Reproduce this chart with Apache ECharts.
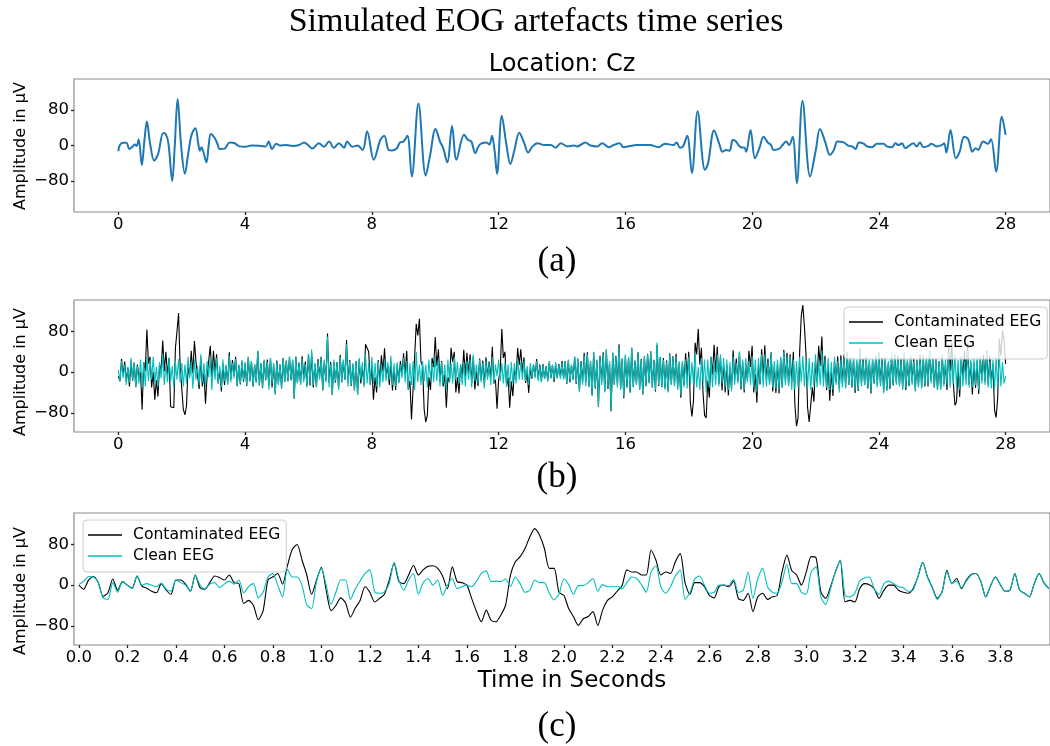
<!DOCTYPE html>
<html><head><meta charset="utf-8">
<script src="https://cdn.jsdelivr.net/npm/echarts@6.0.0/dist/echarts.min.js"></script>
<style>html,body{margin:0;padding:0;background:#fff}#chart{width:1050px;height:746px}</style>
</head><body><div id="chart"></div>
<script>
// ---------- DATA ----------
// Panel (a): simulated EOG artefact (time in s, amplitude in µV)
const eogT = [0,0.04,0.15,0.25,0.35,0.45,0.52,0.58,0.64,0.74,
0.82,0.90,1.00,1.13,1.25,1.42,1.50,1.58,1.70,1.78,
1.87,1.98,2.10,2.20,2.31,2.43,2.52,2.57,2.62,2.68,
2.78,2.85,2.92,3.04,3.12,3.20,3.35,3.51,3.67,3.82,
4.00,4.20,4.50,4.65,4.74,4.85,4.98,5.10,5.30,5.50,
5.70,5.86,6.00,6.12,6.33,6.49,6.65,6.80,6.96,7.12,
7.22,7.38,7.55,7.71,7.85,8.06,8.27,8.39,8.53,8.63,
8.79,8.89,9.00,9.12,9.26,9.47,9.70,9.83,10.01,10.15,
10.25,10.38,10.53,10.67,10.91,11.03,11.14,11.26,11.40,11.61,
11.71,11.79,11.87,11.95,12.10,12.24,12.37,12.50,12.65,12.81,
12.93,13.07,13.23,13.44,13.65,13.80,13.96,14.17,14.38,14.48,
14.74,14.90,15.11,15.27,15.48,15.63,15.82,15.94,16.15,16.36,
16.57,16.78,17.04,17.25,17.51,17.62,17.72,17.82,17.95,18.10,
18.28,18.51,18.61,18.80,18.98,19.06,19.19,19.29,19.39,19.49,
19.64,19.76,19.81,19.95,20.09,20.23,20.36,20.49,20.60,20.67,
20.86,20.96,21.07,21.17,21.28,21.41,21.59,21.83,22.01,22.14,
22.32,22.45,22.58,22.69,22.89,23.05,23.16,23.26,23.37,23.52,
23.62,23.78,23.94,24.15,24.25,24.41,24.52,24.62,24.73,24.83,
25.09,25.19,25.30,25.40,25.56,25.66,25.82,25.98,26.06,26.13,
26.26,26.43,26.55,26.69,26.82,26.95,27.05,27.13,27.29,27.44,
27.54,27.70,27.88,28.00];
const eogV = [-13,0,6,6,-8,-2,2,-1,14,-44,
10,54,5,-34,-20,28,25,5,-80,0,
105,0,-64,-20,24,39,5,-12,-4,-14,
-38,0,26,17,5,-8,-7,7,5,-2,
-3,0,-1,-2,9,-8,4,0,1,-1,
1,7,0,-7,5,-3,9,-5,5,-5,
9,-3,0,-10,32,-32,13,22,-10,-11,
-6,7,9,22,-70,95,-68,-25,37,9,
-6,-38,44,-32,24,13,9,-17,2,7,
2,22,-10,-64,67,5,-42,-10,29,5,
-16,-2,5,1,1,-5,5,-2,0,-2,
7,0,-2,5,-4,1,5,-4,-1,1,
1,1,-4,4,1,7,-5,-2,22,-62,
77,-55,-40,34,0,-14,-10,-12,13,9,
-4,-5,-14,35,-29,-6,20,7,1,-10,
-7,1,9,1,20,-85,101,-70,-10,37,
5,-21,-10,9,7,-1,-2,-8,7,4,
-2,-4,4,4,-2,-4,5,1,5,-6,
5,-2,7,-4,-1,4,-2,1,5,-16,
35,-29,-14,20,14,-14,-6,-10,9,4,
14,-59,65,24];

// Panel (b): 0–28 s, one value every 0.05 s (one row per second)
const stepB = 0.05;
const contamB = [
-8,-18,26,-6,21,-19,9,-28,23,-17,19,-29,15,-10,0,-74,20,2,84,17,
30,-30,0,-54,-16,-48,15,3,62,2,40,-5,28,-68,-68,-70,47,80,116,10,
10,-73,-84,-67,10,-7,42,-2,61,20,22,-33,29,-28,-2,-62,-8,-10,52,-11,
42,1,35,-22,4,-38,17,-25,12,-22,39,-14,24,-7,30,-27,14,-24,21,-19,
17,-27,29,-18,22,-28,15,-20,41,-26,17,-31,23,-16,25,-27,28,-30,15,-42,
23,-23,15,-32,28,-19,23,-18,30,-16,24,-52,30,-21,19,-22,31,-13,21,-27,
35,-26,38,-30,16,-29,26,-10,30,-36,22,-17,76,-21,20,-45,20,-20,20,-32,
34,-20,21,-15,63,-21,24,-27,15,-36,22,-45,25,-22,10,-25,55,57,40,-25,
10,-54,-10,-40,24,-18,33,1,47,-10,14,-25,21,-36,9,-35,15,-20,22,-4,
37,-5,42,-35,-17,-93,-33,-30,95,72,105,20,12,-73,-98,-85,-10,-35,28,10,
69,12,45,-19,22,-28,-5,-70,-10,-20,48,20,40,-40,-10,-42,15,-10,44,-8,
38,-3,35,-22,30,-34,1,-27,27,-16,23,-26,29,-10,21,-13,50,-22,-15,-72,
-15,2,85,28,40,-28,-10,-70,-18,-47,8,-14,48,14,45,0,29,-21,0,-41,
8,-13,15,-9,26,-14,15,-18,16,-13,12,-18,21,-12,14,-19,15,-12,16,-10,
22,-13,22,-23,23,-20,14,-15,30,-23,26,-38,22,-20,38,-21,39,-28,22,-46,
39,-32,23,-68,32,-21,39,-38,44,-33,19,-77,38,-24,32,-26,55,-33,26,-51,
32,-30,29,-40,48,-29,23,-24,39,-34,26,-44,31,-27,36,-21,41,-30,24,-38,
54,-27,29,-29,28,-31,23,-37,37,-24,31,-25,36,-30,18,-50,20,-25,37,-10,
40,-60,-87,-55,58,35,85,15,48,-40,-85,-90,-17,-50,30,-5,54,0,50,-23,
30,-36,15,-40,15,-46,10,-33,43,-14,27,-18,40,-34,21,-40,16,-15,42,10,
52,-40,-4,-60,16,-24,45,-12,53,-16,27,-22,39,-38,12,-41,17,-42,27,-30,
44,-18,38,-25,35,-20,40,-65,-106,-90,40,110,132,90,35,-70,-98,-98,-30,-58,
23,-20,52,12,70,-13,32,-35,13,-56,2,-47,22,-20,31,-32,33,-23,35,-29,
40,-25,29,-30,26,-41,20,-37,47,-22,26,-25,31,-32,22,-42,24,-22,32,-26,
39,-24,29,-39,29,-36,19,-33,34,-26,34,-20,32,-25,26,-32,36,-35,23,-27,
32,-20,27,-36,24,-27,35,-30,31,-28,28,-28,42,-18,28,-30,26,-35,22,-33,
34,-23,15,-35,53,3,58,-22,-65,-58,5,-49,30,-13,42,-7,57,-25,20,-44,
16,-31,22,-43,30,-16,34,-19,43,-25,32,-18,15,-75,-89,-50,65,32,82,62,
16];
const cleanB = [
5,-18,22,-12,15,-25,10,-20,28,-15,18,-30,12,-22,25,-30,20,-28,30,-18,
25,-15,30,-22,10,-28,20,-12,35,-25,15,-20,28,-18,12,-30,22,-15,26,-20,
18,-28,15,-22,30,-12,20,-32,25,-15,12,-25,35,-20,18,-28,22,-10,30,-35,
20,-15,28,-22,12,-30,25,-18,15,-25,32,-20,18,-12,26,-28,15,-22,24,-16,
20,-25,30,-18,22,-28,15,-20,42,-25,18,-30,25,-15,20,-35,28,-22,18,-45,
20,-25,15,-32,28,-20,22,-18,30,-15,25,-52,30,-22,18,-25,26,-20,15,-30,
35,-22,45,-25,18,-30,22,-15,28,-35,25,-20,70,-30,15,-45,25,-18,20,-35,
30,-20,25,-15,55,-28,22,-25,18,-35,22,-45,28,-15,20,-30,35,-22,18,-25,
30,-22,18,-28,22,-30,15,-20,25,-18,20,-15,32,-25,18,-28,20,-22,15,-12,
28,-20,22,-35,18,-25,22,-35,40,-20,15,-25,22,-18,15,-30,25,-15,18,-20,
32,-18,25,-28,20,-22,15,-35,25,-20,18,-22,30,-15,20,-22,15,-25,20,-28,
22,-15,25,-30,35,-18,15,-22,25,-20,18,-32,22,-15,18,-25,30,-22,15,-8,
25,-18,18,-22,20,-28,15,-30,20,-22,18,-22,26,-15,20,-15,22,-18,12,-25,
18,-10,15,-12,22,-18,12,-20,15,-14,12,-18,20,-12,15,-16,20,-12,14,-14,
18,-15,22,-22,25,-18,15,-15,30,-22,28,-38,20,-25,32,-28,35,-30,22,-45,
40,-30,25,-67,30,-25,35,-40,45,-30,22,-75,38,-25,30,-30,50,-35,28,-48,
35,-28,30,-40,48,-30,22,-25,38,-35,25,-45,30,-28,35,-22,40,-30,25,-35,
58,-25,30,-30,25,-35,20,-40,35,-25,30,-28,30,-35,22,-45,22,-30,25,-32,
30,-25,20,-25,38,-30,10,-35,28,-20,25,-40,25,-30,30,-30,20,-25,35,-28,
35,-22,28,-30,25,-35,20,-38,30,-25,18,-22,40,-30,25,-35,28,-20,22,-25,
32,-30,25,-40,28,-22,35,-30,35,-28,20,-25,38,-30,22,-32,25,-35,30,-30,
40,-25,30,-28,30,-35,25,-35,22,-30,30,-20,32,-28,25,-30,28,-35,20,-28,
35,-30,22,-25,42,-28,25,-30,28,-35,20,-35,30,-25,22,-40,25,-30,28,-32,
38,-25,30,-28,30,-35,25,-35,40,-28,22,-25,32,-30,25,-38,28,-22,30,-30,
35,-28,25,-42,28,-35,22,-30,38,-25,30,-25,30,-28,22,-35,40,-30,25,-28,
30,-25,22,-38,25,-30,28,-32,35,-25,30,-28,40,-22,25,-30,28,-35,22,-35,
32,-28,25,-25,38,-30,28,-22,35,-30,25,-35,30,-28,22,-25,42,-30,25,-30,
28,-25,30,-35,30,-22,25,-25,38,-30,22,-32,25,-35,30,-30,35,-28,20,-22,
-8];

// Panel (c): first 4 s, one value every 0.02 s
const stepC = 0.02;
const contamC = [
0,-8,10,17,5,-22,-15,12,-10,7,
0,-6,18,-2,-6,-12,-15,3,-10,-18,
10,10,2,-12,20,-5,-8,5,18,15,
10,20,5,3,-36,-30,-40,-68,-50,10,
16,23,2,38,70,80,50,20,-18,10,
35,-10,-50,-40,-25,-35,-63,-45,-30,-3,
-14,-33,-26,-18,10,43,7,3,20,39,
20,30,37,38,33,18,-7,36,7,5,
0,-26,-52,-72,-49,-69,-72,-59,-39,20,
46,56,72,95,111,98,72,33,33,-14,
-20,-46,-62,-79,-66,-62,-52,-79,-49,-30,
-23,-12,-1,30,26,26,20,20,69,49,
20,26,23,46,62,5,-18,5,5,-3,
-20,-25,-3,0,-3,8,-26,-30,-16,-52,
-23,-16,-28,-23,-20,26,59,29,20,0,
26,56,54,-13,-26,-3,26,49,-33,-30,
-33,-7,3,1,-7,-26,-10,0,0,-10,
-14,-16,-7,16,45,16,-5,-26,-13,29,
3,13,-7,10,21,23,7,-23,-1,16,
1,-12,-10,23,-10,-16,-23,3,23,5,
-7];
const cleanC = [
1,8,17,16,5,-25,-28,5,-14,7,
0,-7,18,0,3,0,-3,4,-8,-12,
10,5,0,-12,20,0,-8,2,5,-5,
2,8,2,10,-15,-3,3,-25,-14,16,
23,0,-23,31,16,16,0,-39,-46,7,
33,0,-38,-14,10,10,-28,-7,8,23,
30,-13,-16,-13,3,45,10,-10,10,23,
-18,5,13,0,10,-20,0,13,-7,-3,
0,-3,8,23,28,7,8,7,12,-3,
16,3,-14,-10,10,5,5,-16,-29,-18,
12,1,-18,-1,-1,5,13,-12,1,-3,
-3,-2,-7,5,16,13,1,-14,26,38,
-3,-16,-3,18,30,-28,-15,12,18,0,
-16,-14,0,0,-1,12,-14,-10,26,-26,
13,33,-3,-14,-16,7,41,3,3,-14,
-18,26,36,-23,-38,-7,26,49,-20,-23,
-16,8,14,16,-7,-18,3,8,3,-3,
-5,-12,-10,16,45,16,-5,-28,-13,27,
3,8,-5,8,20,23,7,-23,-1,16,
1,-12,-10,23,-10,-16,-23,3,23,5,
-7];

// Tick labels
const xTicksAB = [0,4,8,12,16,20,24,28];
const xTicksC = [0,0.2,0.4,0.6,0.8,1.0,1.2,1.4,1.6,1.8,2.0,2.2,2.4,2.6,2.8,3.0,3.2,3.4,3.6,3.8];
const yTicks = [-80,0,80];
const legendNames = ['Contaminated EEG','Clean EEG'];

// ---------- CHART ----------
const SANS = '"DejaVu Sans", sans-serif';
const SERIF = '"Liberation Serif", "DejaVu Serif", serif';
const fmtY = v => (v < 0 ? '\u2212' + Math.abs(v) : String(v));
const tickStyle = {color:'#222', width:1.3};

function mkGrid(top, height) {
  return {left:74, top, width:982, height, show:true, borderColor:'#8c8c8c', borderWidth:1.2, backgroundColor:'transparent'};
}
function mkX(gi, min, max, ticks, fmt) {
  return {gridIndex:gi, type:'value', min, max, position:'bottom',
    axisLine:{show:false, onZero:false}, splitLine:{show:false},
    axisTick:{show:true, customValues:ticks, length:3, lineStyle:tickStyle},
    axisLabel:{customValues:ticks, formatter:fmt, fontSize:16.5, fontFamily:SANS, color:'#000', margin:4}};
}
function mkY(gi, min, max) {
  return {gridIndex:gi, type:'value', min, max, position:'left',
    axisLine:{show:false, onZero:false}, splitLine:{show:false},
    axisTick:{show:true, customValues:yTicks, length:3, lineStyle:tickStyle},
    axisLabel:{customValues:yTicks, formatter:fmtY, fontSize:16.5, fontFamily:SANS, color:'#000', margin:5}};
}
function txt(text, x, y, font, rot) {
  return {type:'text', x, y, rotation:rot || 0, z:10,
    style:{text, x:0, y:0, font, fill:'#000', align:'center', verticalAlign:'middle', textAlign:'center', textVerticalAlign:'middle'}};
}
function mkLegend(left, top) {
  return {left, top, orient:'vertical', data:legendNames, icon:'rect',
    itemWidth:34, itemHeight:1.6, itemGap:3, padding:[6,6,7,5],
    backgroundColor:'rgba(255,255,255,0.8)', borderColor:'#cccccc', borderWidth:1, borderRadius:4,
    textStyle:{fontSize:15.6, fontFamily:SANS, color:'#000', lineHeight:18, padding:[0,0,0,6]},
    selectedMode:false};
}
function line(name, xi, data, color, width, smooth) {
  return {type:'line', name, xAxisIndex:xi, yAxisIndex:xi, data, symbol:'none', showSymbol:false,
    smooth, color, lineStyle:{color, width}, itemStyle:{color}, emphasis:{disabled:true}, silent:true};
}

const dataA = eogT.map((t, i) => [t, eogV[i]]);
const dataBc = contamB.map((v, i) => [i * stepB, v]);
const dataBk = cleanB.map((v, i) => [i * stepB, v]);
const dataCc = contamC.map((v, i) => [i * stepC, v]);
const dataCk = cleanC.map((v, i) => [i * stepC, v]);

const chart = echarts.init(document.getElementById('chart'), null, {renderer:'canvas'});
chart.setOption({
  animation:false,
  backgroundColor:'#fff',
  grid:[mkGrid(79,133), mkGrid(300,132), mkGrid(513,132)],
  xAxis:[
    mkX(0, -1.4, 29.4, xTicksAB, v => String(v)),
    mkX(1, -1.4, 29.4, xTicksAB, v => String(v)),
    mkX(2, -0.02, 4.005, xTicksC, v => v.toFixed(1))
  ],
  yAxis:[mkY(0,-150,150), mkY(1,-117.6,141.8), mkY(2,-117.6,141.8)],
  legend:[mkLegend(844,307), mkLegend(83,520)],
  series:[
    line('EOG', 0, dataA, '#1f77b4', 2, 0.35),
    line('Contaminated EEG', 1, dataBc, '#000000', 1.1, false),
    line('Clean EEG', 1, dataBk, '#00bfbf', 1.1, false),
    line('Contaminated EEG', 2, dataCc, '#000000', 1.1, 0.25),
    line('Clean EEG', 2, dataCk, '#00bfbf', 1.1, 0.25)
  ],
  graphic:[
    txt('Simulated EOG artefacts time series', 536, 22, '34px ' + SERIF),
    txt('Location: Cz', 562, 65, '24px ' + SANS),
    txt('(a)', 557, 262, '35px ' + SERIF),
    txt('(b)', 557, 478, '35px ' + SERIF),
    txt('Time in Seconds', 572, 681, '23px ' + SANS),
    txt('(c)', 557, 727, '35px ' + SERIF),
    txt('Amplitude in \u00b5V', 21, 146, '16px ' + SANS, Math.PI/2),
    txt('Amplitude in \u00b5V', 21, 372, '16px ' + SANS, Math.PI/2),
    txt('Amplitude in \u00b5V', 21, 591, '16px ' + SANS, Math.PI/2)
  ]
});
</script></body></html>
